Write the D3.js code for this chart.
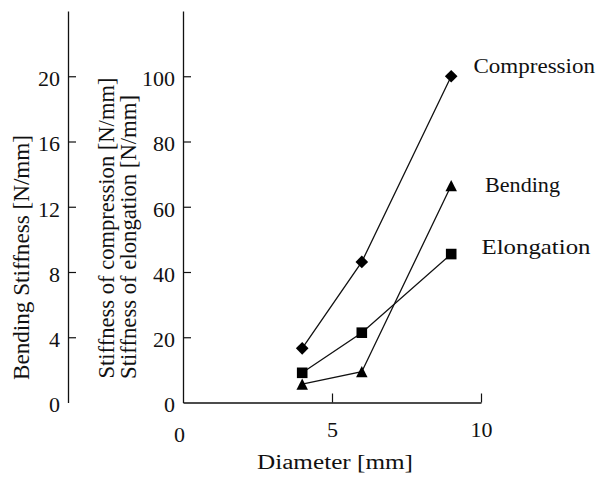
<!DOCTYPE html>
<html>
<head>
<meta charset="utf-8">
<script src="https://cdn.jsdelivr.net/npm/d3@7"></script>
<style>
  html, body { margin: 0; padding: 0; background: #fff; }
  svg { display: block; }
  text { font-family: "Liberation Serif", "Times New Roman", serif; fill: #111; }
</style>
</head>
<body>
<svg id="chart" width="596" height="478"></svg>
<script>
// ---- data ----
const diameters = [4, 6, 9];
const compression = [16.6, 43.1, 100];   // N/mm (middle axis)
const elongation = [9.1, 21.4, 45.5];    // N/mm (middle axis)
const bending = [1.13, 1.89, 13.3];      // N/mm (left axis)
const leftTicks = [0, 4, 8, 12, 16, 20];
const midTicks = [0, 20, 40, 60, 80, 100];
const xTicks = [0, 5, 10];
const seriesNames = ["Compression", "Bending", "Elongation"];

// ---- layout ----
const svg = d3.select("#chart");
const leftX = 68, midX = 183, x0 = 183, x1 = 481, yBottom = 402.5, yTop = 11;

const x = d3.scaleLinear().domain([0, 10]).range([x0, x1]);
const yMid = d3.scaleLinear().domain([0, 120]).range([yBottom, yTop]);
const yLeft = d3.scaleLinear().domain([0, 24]).range([yBottom, yTop]);

const fontTick = 22;

// left axis
const gL = svg.append("g").attr("transform", `translate(${leftX},0)`)
  .call(d3.axisLeft(yLeft).tickValues(leftTicks).tickSizeInner(-8).tickSizeOuter(0).tickPadding(8).tickFormat(d3.format("d")));
// middle axis
const gM = svg.append("g").attr("transform", `translate(${midX},0)`)
  .call(d3.axisLeft(yMid).tickValues(midTicks).tickSizeInner(-8).tickSizeOuter(0).tickPadding(8).tickFormat(d3.format("d")));
// x axis
const gX = svg.append("g").attr("transform", `translate(0,${yBottom})`)
  .call(d3.axisBottom(x).tickValues(xTicks).tickSizeInner(-9).tickSizeOuter(0).tickPadding(19).tickFormat(d3.format("d")));

[gL, gM, gX].forEach(g => {
  g.attr("font-family", null);
  g.selectAll("path.domain").attr("stroke", "#111").attr("stroke-width", 1.3);
  g.selectAll(".tick line").attr("stroke", "#111").attr("stroke-width", 1.2);
  g.selectAll(".tick text").attr("font-size", fontTick).attr("fill", "#111");
});
gL.selectAll(".tick").filter(d => d === 0).select("line").remove();
gM.selectAll(".tick").filter(d => d === 0).select("line").remove();
gX.selectAll(".tick").filter(d => d === 0).select("line").remove();
gL.selectAll(".tick text").attr("dy", "0.42em");
gM.selectAll(".tick text").attr("dy", "0.42em");
gX.selectAll(".tick").filter(d => d === 0).select("text").attr("dx", -4).attr("dy", "0.95em");

// axis titles
svg.append("text")
  .attr("transform", `translate(29,257.5) rotate(-90)`)
  .attr("text-anchor", "middle").attr("font-size", 23)
  .attr("textLength", 245).attr("lengthAdjust", "spacingAndGlyphs")
  .text("Bending Stiffness  [N/mm]");
svg.append("text")
  .attr("transform", `translate(114,228) rotate(-90)`)
  .attr("text-anchor", "middle").attr("font-size", 23)
  .attr("textLength", 301).attr("lengthAdjust", "spacingAndGlyphs")
  .text("Stiffness of compression [N/mm]");
svg.append("text")
  .attr("transform", `translate(136,237) rotate(-90)`)
  .attr("text-anchor", "middle").attr("font-size", 23)
  .attr("textLength", 284).attr("lengthAdjust", "spacingAndGlyphs")
  .text("Stiffness of elongation [N/mm]");
svg.append("text")
  .attr("x", 257).attr("y", 469).attr("font-size", 20)
  .attr("textLength", 156).attr("lengthAdjust", "spacingAndGlyphs")
  .text("Diameter [mm]");

// ---- series ----
const line = (ys, s) => d3.line().x((d, i) => x(diameters[i])).y(d => s(d))(ys);
const lineG = svg.append("g").attr("fill", "none").attr("stroke", "#111").attr("stroke-width", 1.3);
lineG.append("path").attr("d", line(compression, yMid));
lineG.append("path").attr("d", line(elongation, yMid));
lineG.append("path").attr("d", line(bending, yLeft));

const mk = svg.append("g").attr("fill", "#000");
// diamonds
mk.selectAll("path.dia").data(compression).join("path").attr("class", "dia")
  .attr("d", d3.symbol(d3.symbolSquare, 80)())
  .attr("transform", (d, i) => `translate(${x(diameters[i])},${yMid(d)}) rotate(45)`);
// squares
mk.selectAll("rect.sq").data(elongation).join("rect").attr("class", "sq")
  .attr("x", (d, i) => x(diameters[i]) - 5.3).attr("y", d => yMid(d) - 5.3)
  .attr("width", 10.6).attr("height", 10.6);
// triangles
mk.selectAll("path.tri").data(bending).join("path").attr("class", "tri")
  .attr("d", (d, i) => {
    const cx = x(diameters[i]), cy = yLeft(d), h = 11.3, w = 11.5;
    return `M${cx},${cy - h / 2}L${cx + w / 2},${cy + h / 2}L${cx - w / 2},${cy + h / 2}Z`;
  });

// series labels
const labelPos = [
  { x: 473.5, y: 72.5, len: 121.5 },
  { x: 485, y: 191.5, len: 75 },
  { x: 481.5, y: 254, len: 109 }
];
svg.selectAll("text.lab").data(seriesNames).join("text").attr("class", "lab")
  .attr("x", (d, i) => labelPos[i].x).attr("y", (d, i) => labelPos[i].y)
  .attr("font-size", 22)
  .attr("textLength", (d, i) => labelPos[i].len).attr("lengthAdjust", "spacingAndGlyphs")
  .text(d => d);
</script>
</body>
</html>
